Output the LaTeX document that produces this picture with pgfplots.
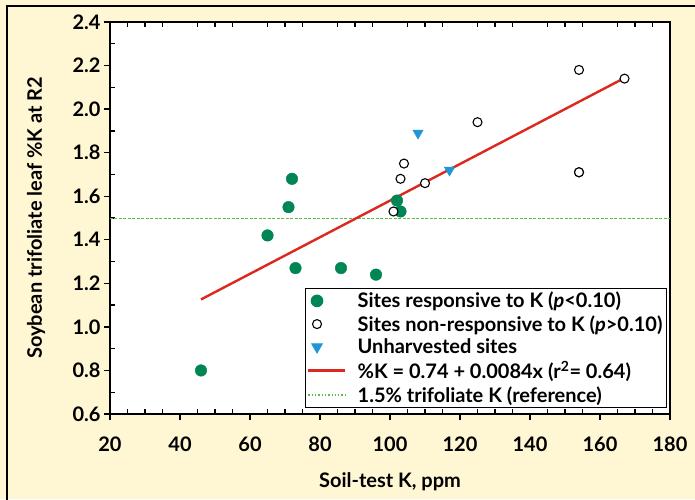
\documentclass[border=0pt]{standalone}
\usepackage{pgfplots}
\pgfplotsset{compat=1.18}
\usepackage{fontspec}
\setmainfont{Lato}

\definecolor{cream}{RGB}{255,246,212}
\definecolor{respgreen}{RGB}{0,133,84}
\definecolor{unblue}{RGB}{30,150,215}
\definecolor{fitred}{RGB}{220,40,30}
\definecolor{refgreen}{RGB}{95,185,75}

\pgfplotsset{
  long legend/.style={legend image code/.code={\draw[##1] (0pt,0pt) -- (37pt,0pt);}},
}

\begin{document}
\begin{tikzpicture}
  % page background and frame (axis box sits at 0,0 -- 560x392)
  \path[use as bounding box] (-110pt,-85pt) rectangle (585pt,414pt);
  \fill[cream] (-110pt,-85pt) rectangle (585pt,414pt);
  \draw[black, line width=1.6pt] (-103pt,-90pt) -- (-103pt,408pt) -- (590pt,408pt);

  \begin{axis}[
      scale only axis,
      width=560pt, height=392pt,
      xmin=20, xmax=180,
      ymin=0.6, ymax=2.4,
      xtick={20,40,60,80,100,120,140,160,180},
      ytick={0.6,0.8,1.0,1.2,1.4,1.6,1.8,2.0,2.2,2.4},
      minor x tick num=3,
      minor y tick num=1,
      xtick pos=bottom, ytick pos=left,
      tick align=outside,
      major tick length=6pt,
      minor tick length=-5pt,
      tick style={black, line width=1.3pt},
      axis line style={black, line width=1.8pt},
      axis background/.style={fill=white},
      /pgf/number format/assume math mode=true,
      yticklabel style={/pgf/number format/.cd, fixed, fixed zerofill, precision=1},
      xticklabel style={yshift=-13pt},
      ticklabel style={font=\fontsize{20}{24}\selectfont\bfseries},
      xlabel={Soil-test K, ppm},
      ylabel={Soybean trifoliate leaf \%K at R2},
      label style={font=\fontsize{20}{24}\selectfont\bfseries},
      xlabel style={at={(axis description cs:0.5,-0.172)}, anchor=center},
      ylabel style={at={(axis description cs:-0.132,0.5)}, anchor=center},
      legend style={at={(1,0)}, anchor=south east, xshift=-3pt, yshift=6pt,
        draw=black, line width=1pt, fill=white,
        font=\fontsize{20}{24}\selectfont\bfseries, row sep=2pt, inner sep=2pt,
        /tikz/every odd column/.append style={column sep=9pt}},
      legend cell align=left,
    ]
    % reference line and fitted regression (drawn behind the points)
    \addplot[refgreen, line width=0.9pt, dash pattern=on 3pt off 1.5pt, forget plot]
      coordinates {(20,1.5) (180,1.5)};
    \addplot[fitred, line width=2.4pt, forget plot]
      coordinates {(46,1.126) (167,2.143)};

    \addplot[only marks, mark=*, mark size=5.8pt, respgreen]
      coordinates {(46,0.80) (65,1.42) (71,1.55) (72,1.68) (73,1.27)
                   (86,1.27) (96,1.24) (102,1.58) (103,1.53)};
    \addlegendentry{Sites responsive to K (\textit{p}\textless0.10)}

    \addplot[only marks, mark=*, mark size=4.5pt, draw=black, fill=white,
             mark options={line width=1.1pt}]
      coordinates {(101,1.53) (103,1.68) (104,1.75) (110,1.66) (125,1.94)
                   (154,2.18) (154,1.71) (154,1.71) (167,2.14)};
    \addlegendentry{Sites non-responsive to K (\textit{p}\textgreater0.10)}

    \addplot[only marks, mark=triangle*, mark size=6pt, unblue,
             mark options={rotate=180}]
      coordinates {(108,1.89) (117,1.72)};
    \addlegendentry{Unharvested sites}

    \addlegendimage{fitred, line width=2.4pt, long legend}
    \addlegendentry{\%K = 0.74 + 0.0084x (r\textsuperscript{2}= 0.64)}
    \addlegendimage{refgreen, line width=1.3pt, dotted, long legend}
    \addlegendentry{1.5\% trifoliate K (reference)}
  \end{axis}

  % minor ticks along the top edge, pointing inward
  \begin{axis}[
      scale only axis,
      width=560pt, height=392pt,
      xmin=20, xmax=180,
      ymin=0.6, ymax=2.4,
      axis x line*=top, axis y line=none,
      xtick={25,30,35,45,50,55,65,70,75,85,90,95,105,110,115,125,130,135,145,150,155,165,170,175},
      xticklabels={},
      tick align=inside,
      major tick length=5pt,
      tick style={black, line width=1.3pt},
      axis line style={black, line width=1.4pt},
    ]
  \end{axis}
\end{tikzpicture}
\end{document}
